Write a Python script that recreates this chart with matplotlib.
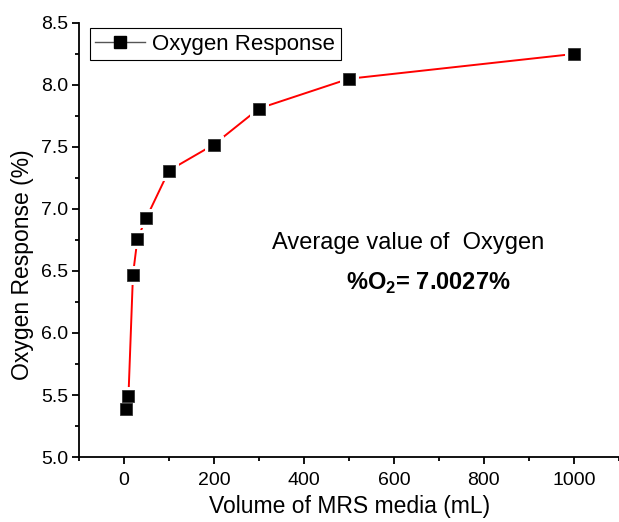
import matplotlib.pyplot as plt
from matplotlib.ticker import MultipleLocator
from matplotlib.lines import Line2D

plt.rcParams['font.family'] = ['Liberation Sans', 'DejaVu Sans']

# data
volume = [5, 10, 20, 30, 50, 100, 200, 300, 500, 1000]
response = [5.39, 5.49, 6.47, 6.76, 6.93, 7.31, 7.52, 7.81, 8.05, 8.25]

fig = plt.figure(figsize=(6.19, 5.22), dpi=100)
ax = fig.add_axes([0.1276, 0.1245, 0.872, 0.8315])

# red line, white halo squares (gap like Origin), black squares on top
ax.plot(volume, response, color='red', lw=1.4, zorder=2)
ax.plot(volume, response, 's', ms=8, mfc='white', mec='white', mew=5, zorder=3)
ax.plot(volume, response, 's', ms=8, mfc='black', mec='#333333', mew=0.6, zorder=4)

ax.set_xlim(-100, 1100)
ax.set_ylim(5.0, 8.5)
ax.xaxis.set_major_locator(MultipleLocator(200))
ax.xaxis.set_minor_locator(MultipleLocator(100))
ax.yaxis.set_major_locator(MultipleLocator(0.5))
ax.yaxis.set_minor_locator(MultipleLocator(0.25))
ax.yaxis.set_major_formatter(plt.FormatStrFormatter('%.1f'))

for s in ['top', 'right']:
    ax.spines[s].set_visible(False)
for s in ['left', 'bottom']:
    ax.spines[s].set_linewidth(1.3)
ax.tick_params(which='major', direction='out', length=5, width=1.3, labelsize=14)
ax.tick_params(which='minor', direction='out', length=3, width=1.3)
ax.tick_params(axis='x', which='major', pad=6)
ax.tick_params(axis='y', which='major', pad=3)

# axis titles placed like the reference
fig.text(350 / 619, 1 - 507 / 522, 'Volume of MRS media (mL)', fontsize=16.5,
         ha='center', va='center')
fig.text(22 / 619, 1 - 265 / 522, 'Oxygen Response (%)', fontsize=16.5,
         ha='center', va='center', rotation=90)

handle = Line2D([], [], color='#555555', lw=1.0, marker='s', ms=8,
                mfc='black', mec='black')
leg = ax.legend([handle], ['Oxygen Response'], loc='upper left',
                bbox_to_anchor=(0.0203, 0.988), fontsize=16, fancybox=False,
                framealpha=1, edgecolor='black', handlelength=2.25,
                handletextpad=0.3, borderpad=0.25, borderaxespad=0)
leg.get_frame().set_linewidth(0.8)

fig.text(272 / 619, 1 - 243 / 522, 'Average value of  Oxygen',
         fontsize=17, ha='left', va='center')
fig.text(346 / 619, 1 - 283 / 522, r'%O$_\mathregular{2}$= 7.0027%',
         fontsize=17, fontweight='bold', ha='left', va='center')

fig.savefig('out.png', dpi=100)
